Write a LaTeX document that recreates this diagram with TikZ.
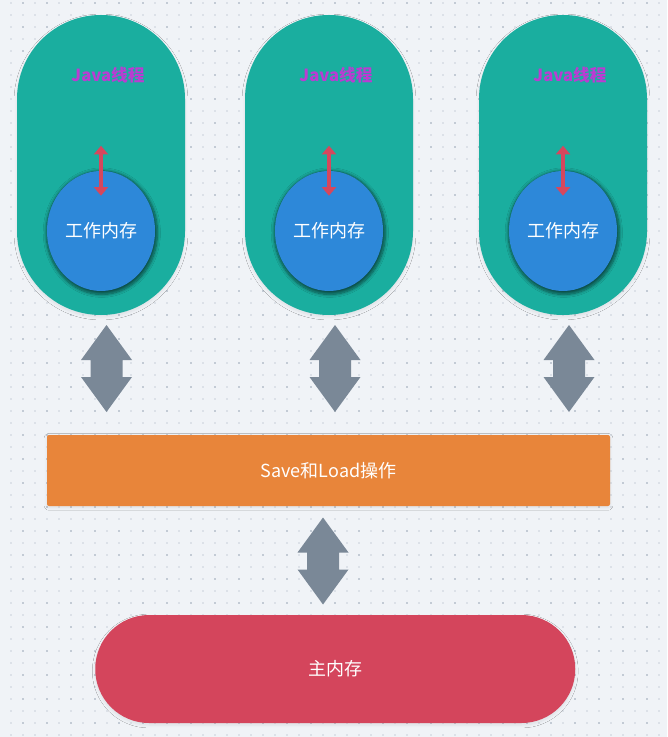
\documentclass[tikz,border=0pt]{standalone}
\usepackage{fontspec}
\setmainfont{Noto Sans CJK SC}
\usepackage{tikz}
\usetikzlibrary{shapes.geometric,shadows.blur,arrows.meta}

\definecolor{bgpaper}{HTML}{F0F3F7}
\definecolor{dotlight}{HTML}{DCE1E8}
\definecolor{dotdark}{HTML}{C3CBD5}
\definecolor{threadteal}{HTML}{1AAE9F}
\definecolor{workblue}{HTML}{2D88D9}
\definecolor{labelpurple}{HTML}{BA3CD2}
\definecolor{latchred}{HTML}{D6475D}
\definecolor{linkgrey}{HTML}{7A8897}
\definecolor{opsorange}{HTML}{E8853A}
\definecolor{mainred}{HTML}{D4455C}

\begin{document}
\begin{tikzpicture}[x=0.75pt, y=-0.75pt,
    thread/.style={fill=threadteal, rounded corners=62.9pt, minimum width=126pt, minimum height=225pt,
      blur shadow={shadow xshift=0pt, shadow yshift=-1.5pt, shadow opacity=8, shadow blur steps=6}},
    workmem/.style={ellipse, fill=workblue, minimum width=81pt, minimum height=90pt, inner sep=0pt,
      text=white, font=\fontsize{13.5pt}{16pt}\selectfont,
      blur shadow={shadow xshift=0.6pt, shadow yshift=-1.2pt, shadow opacity=55, shadow scale=1.03, shadow blur steps=8}},
    latch/.style={latchred, line width=2.3pt, {Triangle[width=10.5pt, length=6.5pt]}-{Triangle[width=10.5pt, length=6.5pt]}},
    link/.pic={
      \fill[linkgrey] (0,-43.5) -- (25.5,-8.5) -- (16,-8.5) -- (16,8.5) -- (25.5,8.5)
        -- (0,43.5) -- (-25.5,8.5) -- (-16,8.5) -- (-16,-8.5) -- (-25.5,-8.5) -- cycle;
    },
  ]
        \useasboundingbox (0,0) rectangle (667,737);
        \fill[bgpaper] (0,0) rectangle (667,737);
        \foreach \x in {11,23,...,659}
          \foreach \y in {3,15,...,735}
            \fill[dotlight] (\x-1,\y-1) rectangle ++(2,2);
        \foreach \x in {23,47,...,659}
          \foreach \y in {3,27,...,735}
            \fill[dotdark] (\x-1,\y-1) rectangle ++(2,2);

        % threads with their working memory
        \foreach \i/\cx/\ax in {1/101/106.5, 2/329/335, 3/563/569} {
          \node[thread] (thread\i) at (\cx,165) {};
          \node[text=labelpurple, font=\fontsize{12.5pt}{15pt}\selectfont\bfseries] (label\i) at (\cx+7,75) {Java线程};
          \node[workmem] (mem\i) at (\cx,231) {工作内存};
          \draw[latch] ([yshift=18.75pt]mem\i.north) -- ([yshift=-18.75pt]mem\i.north);
          \pic (link\i) at (\ax,368.5) {link};
        }

        \node[fill=opsorange, rounded corners=1.5pt, minimum width=422.25pt, minimum height=53.25pt,
          text=white, font=\fontsize{13.5pt}{16pt}\selectfont,
          blur shadow={shadow xshift=0pt, shadow yshift=-1pt, shadow opacity=8, shadow blur steps=5}]
          (save) at (328.5,470.5) {Save和Load操作};

        \pic (link4) at (323,561) {link};

        \node[fill=mainred, rounded corners=40.4pt, minimum width=360pt, minimum height=81pt,
          text=white, font=\fontsize{13.5pt}{16pt}\selectfont,
          blur shadow={shadow xshift=0pt, shadow yshift=-1.5pt, shadow opacity=8, shadow blur steps=6}]
          (main) at (335.25,669) {主内存};
    \end{tikzpicture}
\end{document}
